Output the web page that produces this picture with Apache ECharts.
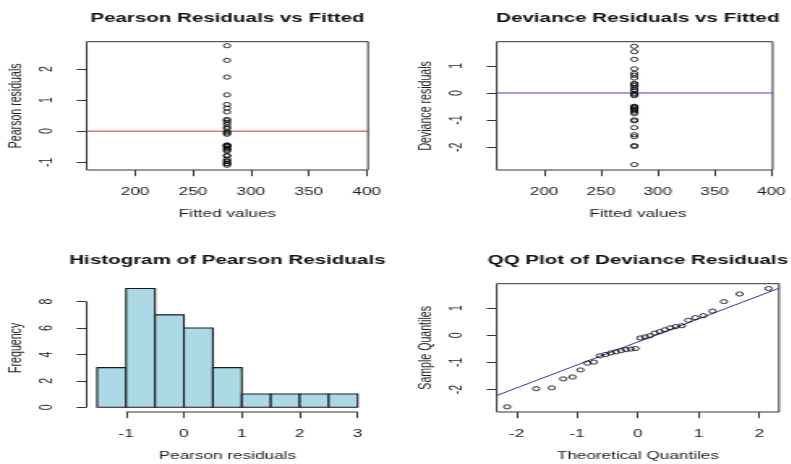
<!DOCTYPE html>
<html>
<head>
<meta charset="utf-8">
<title>Residual diagnostics</title>
<script src="https://cdn.jsdelivr.net/npm/echarts@6/dist/echarts.min.js"></script>
<style>
  html, body { margin: 0; padding: 0; background: #fff; overflow: hidden; }
  #wrap { width: 791px; height: 464px; overflow: hidden; }
  #chart { height: 464px; transform-origin: 0 0; }
</style>
</head>
<body>
<div id="wrap"><div id="chart"></div></div>
<script>
// ---- data ----
const fittedValues = [
  279.4, 279.4, 279.4, 279.4, 279.4, 279.4, 279.4, 279.4,
  279.4, 279.4, 279.4, 279.4, 279.4, 279.4, 279.4, 279.4,
  279.4, 279.4, 279.4, 279.4, 279.4, 279.4, 279.4, 279.4,
  279.4, 279.4, 279.4, 279.4, 279.4, 279.4, 279.4, 279.4
];
const pearsonResiduals = [
  -1.10, -1.05, -1.04, -0.98, -0.96, -0.90, -0.80, -0.78,
  -0.64, -0.61, -0.57, -0.54, -0.49, -0.47, -0.46, -0.44,
  -0.10, -0.06, -0.02, 0.08, 0.13, 0.21, 0.28, 0.34,
  0.38, 0.62, 0.74, 0.86, 1.17, 1.74, 2.28, 2.75
];
const devianceResiduals = [
  -2.64, -1.97, -1.94, -1.61, -1.54, -1.28, -1.03, -0.99,
  -0.76, -0.71, -0.65, -0.61, -0.57, -0.53, -0.51, -0.49,
  -0.10, -0.06, -0.02, 0.08, 0.13, 0.20, 0.27, 0.32,
  0.35, 0.55, 0.65, 0.72, 0.89, 1.24, 1.52, 1.72
];
const theoreticalQuantiles = [
  -2.154, -1.676, -1.418, -1.230, -1.078, -0.947, -0.831, -0.725,
  -0.626, -0.533, -0.445, -0.360, -0.277, -0.197, -0.118, -0.039,
  0.039, 0.118, 0.197, 0.277, 0.360, 0.445, 0.533, 0.626,
  0.725, 0.831, 0.947, 1.078, 1.230, 1.418, 1.676, 2.154
];
const histBreaks = [-1.5, -1, -0.5, 0, 0.5, 1, 1.5, 2, 2.5, 3];
const histCounts = [3, 9, 7, 6, 3, 1, 1, 1, 1];
const qqLineIntercept = -0.245;
const qqLineSlope = 0.85;
const referenceLevel = 0;

const fittedTicks = [200, 250, 300, 350, 400];
const pearsonTicks = [-1, 0, 1, 2];
const devianceTicks = [-2, -1, 0, 1];
const frequencyTicks = [0, 2, 4, 6, 8];
const histXTicks = [-1, 0, 1, 2, 3];
const qqXTicks = [-2, -1, 0, 1, 2];

const titles = [
  'Pearson Residuals vs Fitted',
  'Deviance Residuals vs Fitted',
  'Histogram of Pearson Residuals',
  'QQ Plot of Deviance Residuals'
];
const xNames = ['Fitted values', 'Fitted values', 'Pearson residuals', 'Theoretical Quantiles'];
const yNames = ['Pearson residuals', 'Deviance residuals', 'Frequency', 'Sample Quantiles'];

// ---- layout: the device is drawn narrow and stretched horizontally ----
const S = 1.62;
const W0 = 791 / S;
const sx = v => v / S;
const chartEl = document.getElementById('chart');
chartEl.style.width = W0 + 'px';
chartEl.style.transform = 'scaleX(' + S + ')';

const FONT = "'Liberation Sans', Arial, Helvetica, sans-serif";
const LABEL_SIZE = 10.6;
const TITLE_SIZE = 12.7;
const INK = '#1c1c1c';

const panels = [
  { left: 86.7, top: 41.7, width: 281.3, height: 128.3, box: true },
  { left: 496.7, top: 41.7, width: 282.3, height: 128.3, box: true },
  { left: 86.7, top: 283.7, width: 281.3, height: 128.3, box: false },
  { left: 496.7, top: 283.7, width: 282.3, height: 128.3, box: true }
];

const grid = panels.map(p => ({
  left: sx(p.left), top: p.top, width: sx(p.width), height: p.height,
  show: p.box, borderColor: '#333', borderWidth: 1, backgroundColor: 'transparent',
  containLabel: false
}));

function axis(gridIndex, min, max, ticks, isY) {
  return {
    type: 'value', gridIndex, min, max,
    splitLine: { show: false },
    axisLine: { show: false, onZero: false },
    axisTick: { show: true, length: 6.2, customValues: ticks, lineStyle: { color: '#333', width: 1 } },
    axisLabel: {
      customValues: ticks, color: INK, fontSize: LABEL_SIZE, fontFamily: FONT,
      margin: isY ? 19 : 17, rotate: isY ? 90 : 0, hideOverlap: false
    }
  };
}

const xAxis = [
  axis(0, 158.3, 401.1, fittedTicks, false),
  axis(1, 158.3, 401.1, fittedTicks, false),
  axis(2, -1.68, 3.18, histXTicks, false),
  axis(3, -2.326, 2.326, qqXTicks, false)
];
const yAxis = [
  axis(0, -1.25, 2.88, pearsonTicks, true),
  axis(1, -2.84, 1.89, devianceTicks, true),
  axis(2, -0.36, 9.36, frequencyTicks, true),
  axis(3, -2.83, 1.90, devianceTicks, true)
];

const pointStyle = {
  symbol: 'circle', symbolSize: 4.2,
  itemStyle: { color: 'rgba(0,0,0,0)', borderColor: '#000', borderWidth: 1 }
};

// straight guide line across a panel at a given level
function levelLine(idx, level, color) {
  return {
    type: 'line', xAxisIndex: idx, yAxisIndex: idx, silent: true, clip: true,
    symbol: 'none', lineStyle: { color, width: 1 }, z: 2,
    data: [[xAxis[idx].min, level], [xAxis[idx].max, level]]
  };
}

const qqX0 = xAxis[3].min, qqX1 = xAxis[3].max;

const series = [
  Object.assign({
    type: 'scatter', xAxisIndex: 0, yAxisIndex: 0, silent: true, z: 3,
    data: fittedValues.map((f, i) => [f, pearsonResiduals[i]])
  }, pointStyle),
  levelLine(0, referenceLevel, '#c0392b'),
  Object.assign({
    type: 'scatter', xAxisIndex: 1, yAxisIndex: 1, silent: true, z: 3,
    data: fittedValues.map((f, i) => [f, devianceResiduals[i]])
  }, pointStyle),
  levelLine(1, referenceLevel, '#4747c8'),
  {
    type: 'custom', xAxisIndex: 2, yAxisIndex: 2, silent: true,
    data: histCounts.map((c, i) => [histBreaks[i], histBreaks[i + 1], c]),
    renderItem: function (params, api) {
      const a = api.coord([api.value(0), 0]);
      const b = api.coord([api.value(1), api.value(2)]);
      return {
        type: 'rect',
        shape: { x: a[0], y: b[1], width: b[0] - a[0], height: a[1] - b[1] },
        style: { fill: '#add8e6', stroke: '#1a1a1a', lineWidth: 1.1 }
      };
    }
  },
  // axis lines of the histogram, spanning first to last tick
  {
    type: 'line', xAxisIndex: 2, yAxisIndex: 2, silent: true, clip: false,
    symbol: 'none', lineStyle: { color: '#333', width: 1 },
    data: [[histXTicks[0], yAxis[2].min], [histXTicks[histXTicks.length - 1], yAxis[2].min]]
  },
  {
    type: 'line', xAxisIndex: 2, yAxisIndex: 2, silent: true, clip: false,
    symbol: 'none', lineStyle: { color: '#333', width: 1 },
    data: [[xAxis[2].min, frequencyTicks[0]], [xAxis[2].min, frequencyTicks[frequencyTicks.length - 1]]]
  },
  Object.assign({
    type: 'scatter', xAxisIndex: 3, yAxisIndex: 3, silent: true, z: 3,
    data: theoreticalQuantiles.map((q, i) => [q, devianceResiduals[i]])
  }, pointStyle),
  {
    type: 'line', xAxisIndex: 3, yAxisIndex: 3, silent: true, clip: true,
    symbol: 'none', lineStyle: { color: '#3535a8', width: 1 }, z: 2,
    data: [[qqX0, qqLineIntercept + qqLineSlope * qqX0], [qqX1, qqLineIntercept + qqLineSlope * qqX1]]
  }
];

// titles and axis names
const graphic = [];
panels.forEach((p, i) => {
  const cx = sx(p.left + p.width / 2);
  const rowOff = i < 2 ? 0 : 242;
  graphic.push({
    type: 'text', x: cx, y: 18 + rowOff, silent: true,
    style: { text: titles[i], fill: '#111', font: 'bold ' + TITLE_SIZE + 'px ' + FONT,
             textAlign: 'center', textVerticalAlign: 'middle' }
  });
  graphic.push({
    type: 'text', x: cx, y: 214.5 + rowOff, silent: true,
    style: { text: xNames[i], fill: INK, font: LABEL_SIZE + 'px ' + FONT,
             textAlign: 'center', textVerticalAlign: 'middle' }
  });
  graphic.push({
    type: 'text', x: sx(p.left - 70), y: p.top + p.height / 2, rotation: Math.PI / 2, silent: true,
    style: { text: yNames[i], fill: INK, font: LABEL_SIZE + 'px ' + FONT,
             textAlign: 'center', textVerticalAlign: 'middle' }
  });
});

const chart = echarts.init(chartEl, null, { renderer: 'canvas' });
chart.setOption({
  backgroundColor: '#ffffff',
  animation: false,
  grid, xAxis, yAxis, series, graphic
});
</script>
</body>
</html>
